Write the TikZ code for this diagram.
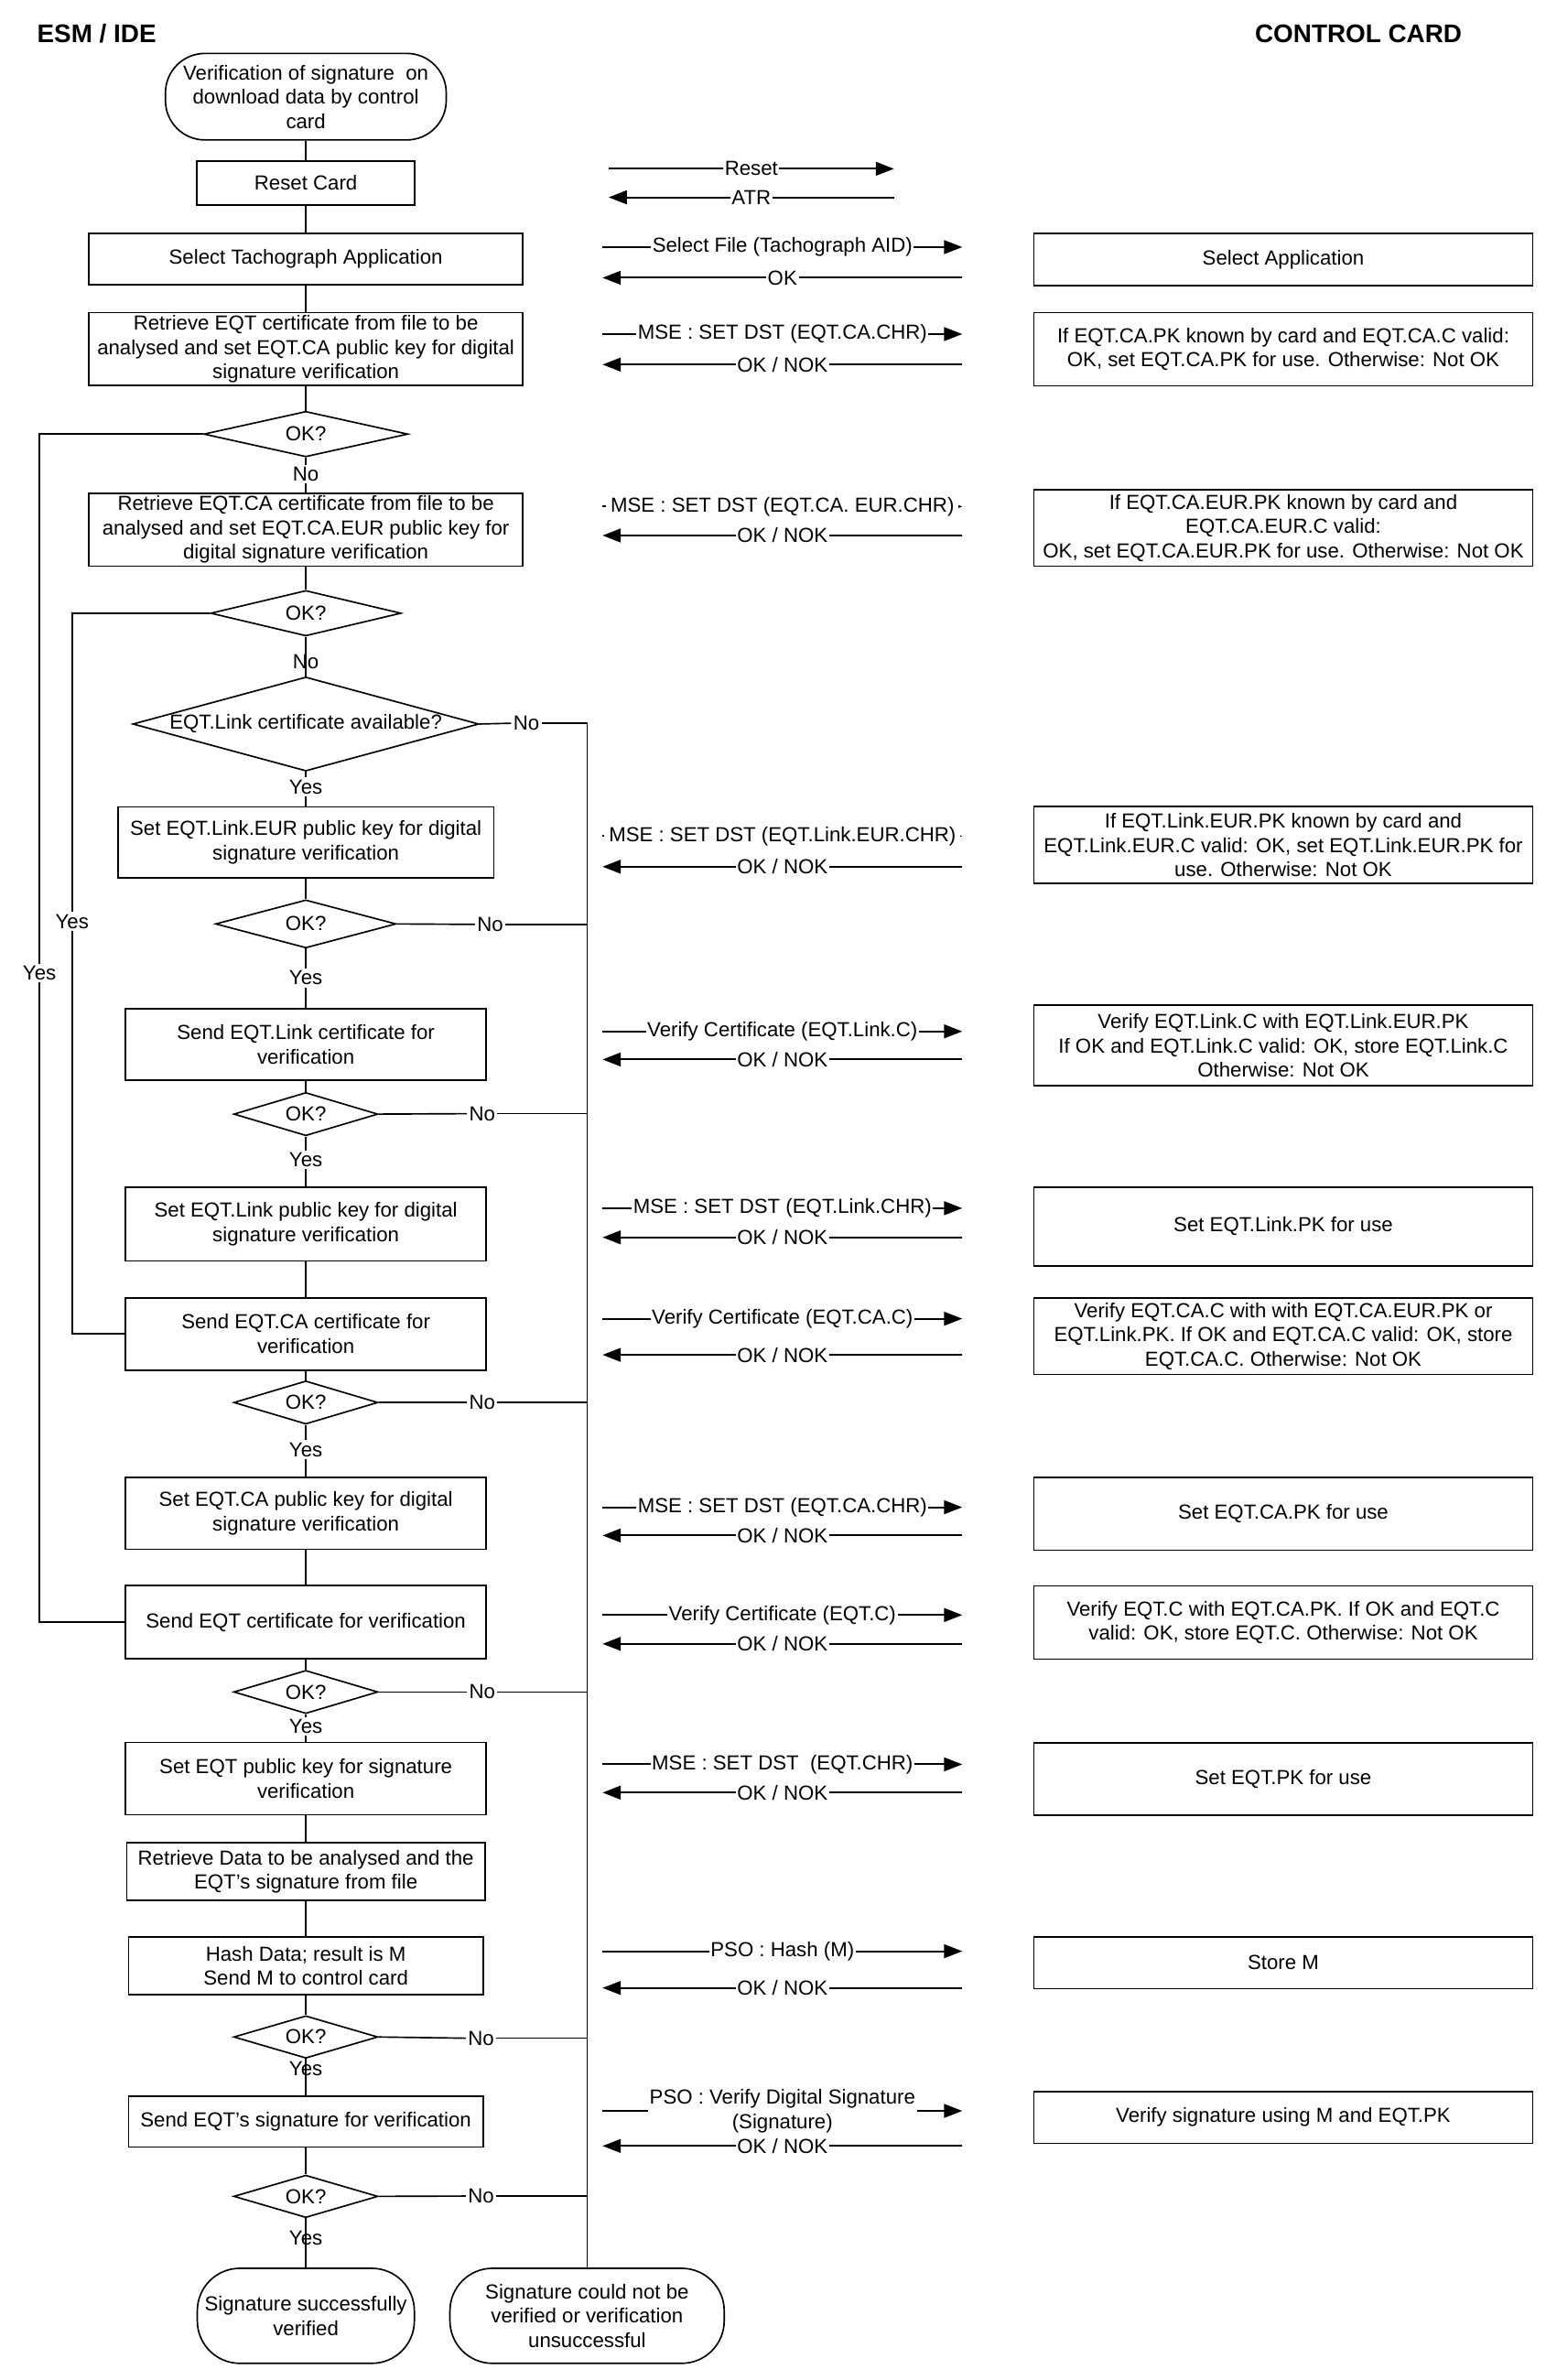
\documentclass[tikz,border=0pt]{standalone}
\usepackage{fontspec}
\setmainfont{Liberation Sans}
\usetikzlibrary{shapes.geometric,arrows.meta}
\begin{document}
\begin{tikzpicture}[x=1pt,y=-1pt,
  font=\fontsize{13.4}{16}\selectfont,
  line width=1pt,
  box/.style={draw, rectangle, inner sep=1pt, align=center},
  term/.style={draw, rectangle, rounded corners=26pt, inner sep=1pt, align=center},
  dia/.style={draw, diamond, inner sep=0pt},
  tag/.style={inner sep=1pt},
  lbl/.style={fill=white, inner sep=1pt, align=center},
  msg/.style={line width=1.2pt, -{Triangle[length=12pt,width=9pt]}},
  hdr/.style={inner sep=0pt, font=\fontsize{16.8}{20}\selectfont\bfseries}]
\useasboundingbox (0,0) rectangle (1018,1568);

% headers
\node[hdr, anchor=west] (hL) at (24,22) {ESM / IDE};
\node[hdr] (hR) at (895,22) {CONTROL CARD};

% ---------------- left column ----------------
\node[term, minimum width=185pt, minimum height=57pt] (start) at (201.5,63.7)
  {Verification of signature~ on\\download data by control\\card};
\node[box, minimum width=143.5pt, minimum height=29pt] (reset) at (201.5,120.5) {Reset Card};
\node[box, minimum width=286pt, minimum height=34pt] (selTach) at (201.5,170.7) {Select Tachograph Application};
\node[box, minimum width=286pt, minimum height=48pt] (retr1) at (201.5,230)
  {Retrieve EQT certificate from file to be\\analysed and set EQT.CA public key for digital\\signature verification};
\node[dia, minimum width=134.5pt, minimum height=30pt, label=center:OK?] (d1) at (201.5,286) {};
\node[tag] (no1) at (201.5,312.5) {No};
\node[box, minimum width=286pt, minimum height=48pt] (retr2) at (201.5,349)
  {Retrieve EQT.CA certificate from file to be\\analysed and set EQT.CA.EUR public key for\\digital signature verification};
\node[dia, minimum width=125.5pt, minimum height=30pt, label=center:OK?] (d2) at (201.5,404) {};
\node[dia, minimum width=228pt, minimum height=62pt, label=center:EQT.Link certificate available?] (d3) at (201.5,477) {};
\node[tag] (yes3) at (201.5,518.4) {Yes};
\node[box, minimum width=247.7pt, minimum height=46.7pt] (setLE) at (201.5,555)
  {Set EQT.Link.EUR public key for digital\\signature verification};
\node[dia, minimum width=119pt, minimum height=31.7pt, label=center:OK?] (d4) at (201.5,608.7) {};
\node[tag] (yes4) at (201.5,644.3) {Yes};
\node[box, minimum width=237.7pt, minimum height=47.2pt] (sendLink) at (201.5,688)
  {Send EQT.Link certificate for\\verification};
\node[dia, minimum width=95pt, minimum height=28.5pt, label=center:OK?] (d5) at (201.5,734) {};
\node[tag] (yes5) at (201.5,764) {Yes};
\node[box, minimum width=237.7pt, minimum height=48.8pt] (setLink) at (201.5,806.4)
  {Set EQT.Link public key for digital\\signature verification};
\node[box, minimum width=237.7pt, minimum height=47.6pt] (sendCA) at (201.5,878.8)
  {Send EQT.CA certificate for\\verification};
\node[dia, minimum width=95pt, minimum height=28.5pt, label=center:OK?] (d6) at (201.5,924) {};
\node[tag] (yes6) at (201.5,955) {Yes};
\node[box, minimum width=237.7pt, minimum height=47.5pt] (setCA) at (201.5,997)
  {Set EQT.CA public key for digital\\signature verification};
\node[box, minimum width=237.7pt, minimum height=48pt] (sendEQT) at (201.5,1068.7)
  {Send EQT certificate for verification};
\node[dia, minimum width=95pt, minimum height=28.5pt, label=center:OK?] (d7) at (201.5,1114.7) {};
\node[tag] (yes7) at (201.5,1137.5) {Yes};
\node[box, minimum width=237.7pt, minimum height=47.6pt] (setEQT) at (201.5,1171.8)
  {Set EQT public key for signature\\verification};
\node[box, minimum width=236pt, minimum height=38pt] (retrData) at (201.5,1233)
  {Retrieve Data to be analysed and the\\EQT's signature from file};
\node[box, minimum width=233.7pt, minimum height=38pt] (hash) at (201.5,1295)
  {Hash Data; result is M\\Send M to control card};
\node[dia, minimum width=95pt, minimum height=28pt, label=center:OK?] (d8) at (201.5,1342) {};
\node[box, minimum width=233.7pt, minimum height=33.7pt] (sendSig) at (201.5,1397.7)
  {Send EQT's signature for verification};
\node[dia, minimum width=95pt, minimum height=28pt, label=center:OK?] (d9) at (201.5,1447) {};
\node[term, rounded corners=28pt, minimum width=143pt, minimum height=62.6pt] (succ) at (201.5,1525.7)
  {Signature successfully\\verified};
\node[term, rounded corners=28pt, minimum width=180.7pt, minimum height=62.6pt] (fail) at (386.8,1525.7)
  {Signature could not be\\verified or verification\\unsuccessful};

% main vertical flow
\draw (start) -- (reset);
\draw (reset) -- (selTach);
\draw (selTach) -- (retr1);
\draw (retr1) -- (d1);
\draw (d1) -- (no1);
\draw (no1) -- (retr2);
\draw (retr2) -- (d2);
\draw (d2) -- (d3);
\node[tag] (no2) at (201.5,436) {No};
\draw (d3) -- (yes3);
\draw (yes3) -- (setLE);
\draw (setLE) -- (d4);
\draw (d4) -- (yes4);
\draw (yes4) -- (sendLink);
\draw (sendLink) -- (d5);
\draw (d5) -- (yes5);
\draw (yes5) -- (setLink);
\draw (setLink) -- (sendCA);
\draw (sendCA) -- (d6);
\draw (d6) -- (yes6);
\draw (yes6) -- (setCA);
\draw (setCA) -- (sendEQT);
\draw (sendEQT) -- (d7);
\draw (d7) -- (yes7);
\draw (yes7) -- (setEQT);
\draw (setEQT) -- (retrData);
\draw (retrData) -- (hash);
\draw (hash) -- (d8);
\draw (d8) -- (sendSig);
\node[tag] (yes8) at (201.5,1363) {Yes};
\draw (sendSig) -- (d9);
\draw (d9) -- (succ);
\node[tag] (yes9) at (201.5,1474.5) {Yes};

% Yes loops on the left
\node[tag] (yesA) at (26,641) {Yes};
\node[tag] (yesB) at (47.5,607) {Yes};
\draw (d1.west) -| (yesA.north);
\draw (yesA.south) |- (sendEQT.west);
\draw (d2.west) -| (yesB.north);
\draw (yesB.south) |- (sendCA.west);

% No branches to the failure trunk
\node[tag] (no3) at (346.8,476.5) {No};
\node[tag] (no4) at (323,609) {No};
\node[tag] (no5) at (317.7,733.7) {No};
\node[tag] (no6) at (317.7,924) {No};
\node[tag] (no7) at (317.7,1114.7) {No};
\node[tag] (no8) at (317,1342.8) {No};
\node[tag] (no9) at (317,1446.8) {No};
\draw (d3.east) -- (no3.west);
\draw (no3.east) -| (fail.north);
\draw (d4.east) -- (no4.west);
\draw (no4.east) -- (no4.east -| fail.north);
\draw (d5.east) -- (no5.west);
\draw (no5.east) -- (no5.east -| fail.north);
\draw (d6.east) -- (no6.west);
\draw (no6.east) -- (no6.east -| fail.north);
\draw (d7.east) -- (no7.west);
\draw (no7.east) -- (no7.east -| fail.north);
\draw (d8.east) -- (no8.west);
\draw (no8.east) -- (no8.east -| fail.north);
\draw (d9.east) -- (no9.west);
\draw (no9.east) -- (no9.east -| fail.north);

% ---------------- control card column ----------------
\node[box, minimum width=328.5pt, minimum height=34.2pt] (c1) at (845.5,171) {Select Application};
\node[box, minimum width=328.5pt, minimum height=48.3pt] (c2) at (845.5,230)
  {If EQT.CA.PK known by card and EQT.CA.C valid:\\OK, set EQT.CA.PK for use. Otherwise: Not OK};
\node[box, minimum width=328.5pt, minimum height=50.2pt] (c3) at (845.5,347.8)
  {If EQT.CA.EUR.PK known by card and\\EQT.CA.EUR.C valid:\\OK, set EQT.CA.EUR.PK for use. Otherwise: Not OK};
\node[box, minimum width=328.5pt, minimum height=50.7pt] (c4) at (845.5,556.7)
  {If EQT.Link.EUR.PK known by card and\\EQT.Link.EUR.C valid: OK, set EQT.Link.EUR.PK for\\use. Otherwise: Not OK};
\node[box, minimum width=328.5pt, minimum height=52.9pt] (c5) at (845.5,688.8)
  {Verify EQT.Link.C with EQT.Link.EUR.PK\\If OK and EQT.Link.C valid: OK, store EQT.Link.C\\Otherwise: Not OK};
\node[box, minimum width=328.5pt, minimum height=51.9pt] (c6) at (845.5,808) {Set EQT.Link.PK for use};
\node[box, minimum width=328.5pt, minimum height=50.6pt] (c7) at (845.5,880.3)
  {Verify EQT.CA.C with with EQT.CA.EUR.PK or\\EQT.Link.PK. If OK and EQT.CA.C valid: OK, store\\EQT.CA.C. Otherwise: Not OK};
\node[box, minimum width=328.5pt, minimum height=47.8pt] (c8) at (845.5,997.3) {Set EQT.CA.PK for use};
\node[box, minimum width=328.5pt, minimum height=48.2pt] (c9) at (845.5,1069)
  {Verify EQT.C with EQT.CA.PK. If OK and EQT.C\\valid: OK, store EQT.C. Otherwise: Not OK};
\node[box, minimum width=328.5pt, minimum height=47.8pt] (c10) at (845.5,1172) {Set EQT.PK for use};
\node[box, minimum width=328.5pt, minimum height=34.2pt] (c11) at (845.5,1293) {Store M};
\node[box, minimum width=328.5pt, minimum height=34.2pt] (c12) at (845.5,1395) {Verify signature using M and EQT.PK};

% ---------------- messages ----------------
\coordinate (LA) at (401,0);
\coordinate (RA) at (589,0);
\coordinate (LL) at (397,0);
\coordinate (RR) at (634,0);
\coordinate (r1) at (0,111.2);
\coordinate (r2) at (0,130);
\coordinate (r3) at (0,162.8);
\coordinate (r4) at (0,183);
\coordinate (r5) at (0,220.1);
\coordinate (r6) at (0,240.2);
\coordinate (r7) at (0,333.7);
\coordinate (r8) at (0,352.8);
\coordinate (r9) at (0,550.8);
\coordinate (r10) at (0,571);
\coordinate (r11) at (0,679.5);
\coordinate (r12) at (0,698);
\coordinate (r13) at (0,796);
\coordinate (r14) at (0,815.2);
\coordinate (r15) at (0,868.8);
\coordinate (r16) at (0,892.6);
\coordinate (r17) at (0,993);
\coordinate (r18) at (0,1011.6);
\coordinate (r19) at (0,1064);
\coordinate (r20) at (0,1083);
\coordinate (r21) at (0,1162.4);
\coordinate (r22) at (0,1181);
\coordinate (r23) at (0,1285.5);
\coordinate (r24) at (0,1309.7);
\coordinate (r25) at (0,1390.7);
\coordinate (r26) at (0,1413.8);

\draw[msg] (LA |- r1) -- node[lbl]{Reset} (RA |- r1);
\draw[msg] (RA |- r2) -- node[lbl]{ATR} (LA |- r2);
\draw[msg] (LL |- r3) -- node[lbl]{Select File (Tachograph AID)} (RR |- r3);
\draw[msg] (RR |- r4) -- node[lbl]{OK} (LL |- r4);
\draw[msg] (LL |- r5) -- node[lbl]{MSE : SET DST (EQT.CA.CHR)} (RR |- r5);
\draw[msg] (RR |- r6) -- node[lbl]{OK / NOK} (LL |- r6);
\draw[msg] (LL |- r7) -- node[lbl, inner xsep=3pt]{MSE : SET DST (EQT.CA. EUR.CHR)} (RR |- r7);
\draw[msg] (RR |- r8) -- node[lbl]{OK / NOK} (LL |- r8);
\draw[msg] (LL |- r9) -- node[lbl, inner xsep=3pt]{MSE : SET DST (EQT.Link.EUR.CHR)} (RR |- r9);
\draw[msg] (RR |- r10) -- node[lbl]{OK / NOK} (LL |- r10);
\draw[msg] (LL |- r11) -- node[lbl]{Verify Certificate (EQT.Link.C)} (RR |- r11);
\draw[msg] (RR |- r12) -- node[lbl]{OK / NOK} (LL |- r12);
\draw[msg] (LL |- r13) -- node[lbl]{MSE : SET DST (EQT.Link.CHR)} (RR |- r13);
\draw[msg] (RR |- r14) -- node[lbl]{OK / NOK} (LL |- r14);
\draw[msg] (LL |- r15) -- node[lbl]{Verify Certificate (EQT.CA.C)} (RR |- r15);
\draw[msg] (RR |- r16) -- node[lbl]{OK / NOK} (LL |- r16);
\draw[msg] (LL |- r17) -- node[lbl]{MSE : SET DST (EQT.CA.CHR)} (RR |- r17);
\draw[msg] (RR |- r18) -- node[lbl]{OK / NOK} (LL |- r18);
\draw[msg] (LL |- r19) -- node[lbl]{Verify Certificate (EQT.C)} (RR |- r19);
\draw[msg] (RR |- r20) -- node[lbl]{OK / NOK} (LL |- r20);
\draw[msg] (LL |- r21) -- node[lbl]{MSE : SET DST~ (EQT.CHR)} (RR |- r21);
\draw[msg] (RR |- r22) -- node[lbl]{OK / NOK} (LL |- r22);
\draw[msg] (LL |- r23) -- node[lbl]{PSO : Hash (M)} (RR |- r23);
\draw[msg] (RR |- r24) -- node[lbl]{OK / NOK} (LL |- r24);
\draw[msg] (LL |- r25) -- node[lbl]{PSO : Verify Digital Signature\\(Signature)} (RR |- r25);
\draw[msg] (RR |- r26) -- node[lbl]{OK / NOK} (LL |- r26);
\end{tikzpicture}
\end{document}
